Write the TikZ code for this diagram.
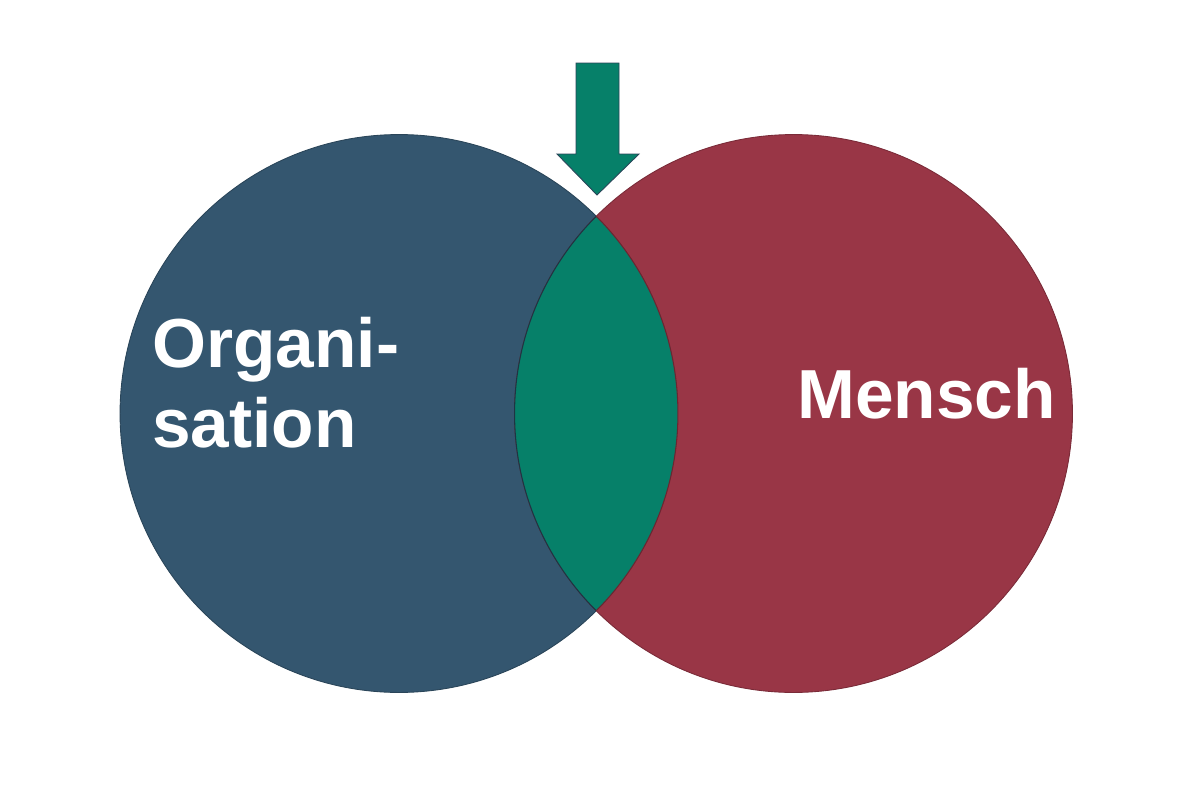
\documentclass[tikz,border=0pt]{standalone}
\usepackage{fontspec}
\setmainfont{Liberation Sans}
\definecolor{OrgBlue}   {RGB}{52,  86, 111}
\definecolor{MenschRed} {RGB}{153, 54,  70}
\definecolor{LinkGreen} {RGB}{6,  128, 105}
\usetikzlibrary{positioning}

\begin{document}
\begin{tikzpicture}[
  x=0.02cm, y=-0.02cm,
  setcircle/.style={
    circle, inner sep=0pt,
    minimum size=11.16cm,
    line width=0.5pt},
  settext/.style={
    text=white, inner sep=0pt,
    font=\fontsize{39.5}{46}\selectfont\bfseries},
  pointer/.style={
    fill=LinkGreen, draw=OrgBlue!80!black,
    line width=0.5pt}
]
\useasboundingbox (0,0) rectangle (1200,801);

% the two sets
\node[setcircle, fill=OrgBlue, draw=OrgBlue!80!black]
  (org) at (399,413.5) {};
\node[setcircle, fill=MenschRed, draw=MenschRed!80!black]
  (men) at (793.5,413.5) {};

% overlap
\begin{scope}
  \clip (org.center) circle (5.58cm);
  \fill[LinkGreen] (men.center) circle (5.58cm);
  \draw[OrgBlue!60!black, line width=0.6pt]
    (men.center) circle (5.58cm);
\end{scope}
\begin{scope}
  \clip (men.center) circle (5.58cm);
  \draw[MenschRed!70!black, line width=0.6pt]
    (org.center) circle (5.58cm);
\end{scope}

% labels
\node[settext, anchor=base west] (orgA) at (152,367) {Organi-};
\node[settext, anchor=base west] (orgB) at (152,447) {sation};
\node[settext, anchor=base west] (menA) at (797,418) {Mensch};

% arrow onto the overlap
\coordinate (tip) at (597,195);
\draw[pointer] (576,63) -- (619,63) -- (619,154) -- (639,154)
  -- (tip) -- (557,154) -- (576,154) -- cycle;
\end{tikzpicture}
\end{document}
